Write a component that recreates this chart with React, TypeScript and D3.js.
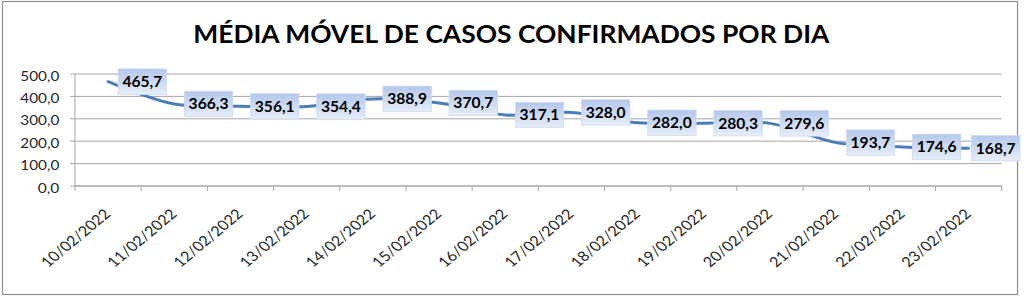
import React from "react";
import * as d3 from "d3";

const title = "MÉDIA MÓVEL DE CASOS CONFIRMADOS POR DIA";
const dates = [
  "10/02/2022", "11/02/2022", "12/02/2022", "13/02/2022", "14/02/2022",
  "15/02/2022", "16/02/2022", "17/02/2022", "18/02/2022", "19/02/2022",
  "20/02/2022", "21/02/2022", "22/02/2022", "23/02/2022",
];
const values = [465.7, 366.3, 356.1, 354.4, 388.9, 370.7, 317.1, 328.0, 282.0, 280.3, 279.6, 193.7, 174.6, 168.7];
const yTicks = [0, 100, 200, 300, 400, 500];

const W = 1024;
const H = 296;
const FONT = "Lato, 'Open Sans', sans-serif";

const locale = d3.formatLocale({ decimal: ",", thousands: ".", grouping: [3], currency: ["R$", ""] });
const fmt = locale.format(".1f");

// Calibri-like widths: digits 0.507em, comma 0.25em, slash 0.386em
const emWidth = (s: string) =>
  s.split("").reduce((a, c) => a + (c === "," ? 0.25 : c === "/" ? 0.386 : 0.507), 0);

export default function App() {
  const x = d3.scaleBand<string>().domain(dates).range([75, 1001.7]);
  const y = d3.scaleLinear().domain([0, 500]).range([186, 74]);
  const cx = (d: string) => (x(d) as number) + x.bandwidth() / 2;

  const line = d3
    .line<number>()
    .x((_, i) => cx(dates[i]))
    .y((v) => y(v))
    .curve(d3.curveCatmullRom.alpha(0.5));

  const boxW = 48.5;
  const boxH = 25.5;
  const boundaries = [...dates.map((d) => x(d) as number), 1001.7];

  return (
    <svg
      width={W}
      height={H}
      style={{ position: "absolute", left: 0, top: 0, background: "#fff" }}
    >
      <defs>
        <linearGradient id="lbl" x1="0" y1="0" x2="0" y2="1">
          <stop offset="0" stopColor="#b3c7ec" />
          <stop offset="1" stopColor="#e8eefa" />
        </linearGradient>
      </defs>
      <rect x={0} y={0} width={W} height={H} fill="#fff" />
      <rect x={2.5} y={1.5} width={1015} height={293} fill="#fff" stroke="#8c8c8c" strokeWidth={1.2} />

      <text
        x={511.3}
        y={43}
        textAnchor="middle"
        fontFamily={FONT}
        fontWeight="bold"
        fontSize={25}
        fill="#000"
        textLength={636}
        lengthAdjust="spacingAndGlyphs"
      >
        {title}
      </text>

      {/* gridlines */}
      {yTicks.map((t) => (
        <line key={"g" + t} x1={75} x2={1001.7} y1={y(t)} y2={y(t)} stroke="#a6a6a6" strokeWidth={1} />
      ))}
      {/* y axis */}
      <line x1={75} x2={75} y1={74} y2={186} stroke="#a6a6a6" />
      {yTicks.map((t) => {
        const s = fmt(t);
        return (
          <g key={"yt" + t}>
            <line x1={70} x2={75} y1={y(t)} y2={y(t)} stroke="#a6a6a6" />
            <text
              x={59.3}
              y={y(t) + 6.5}
              textAnchor="end"
              fontFamily={FONT}
              fontSize={13.5}
              fill="#262626"
              textLength={emWidth(s) * 17.1}
              lengthAdjust="spacingAndGlyphs"
            >
              {s}
            </text>
          </g>
        );
      })}
      {/* x axis */}
      <line x1={75} x2={1001.7} y1={186} y2={186} stroke="#a6a6a6" />
      {boundaries.map((b, i) => (
        <line key={"xt" + i} x1={b} x2={b} y1={186} y2={191} stroke="#a6a6a6" />
      ))}
      {dates.map((d) => (
        <text
          key={"xl" + d}
          transform={`translate(${cx(d) + 3.5},${215}) scale(1.2,1) rotate(-45)`}
          textAnchor="end"
          fontFamily={FONT}
          fontSize={14}
          fill="#262626"
          textLength={emWidth(d) * 15.5}
          lengthAdjust="spacingAndGlyphs"
        >
          {d}
        </text>
      ))}

      {/* line */}
      <path d={line(values) ?? ""} fill="none" stroke="#4a7ebb" strokeWidth={3} strokeLinecap="round" />

      {/* data labels */}
      {values.map((v, i) => {
        const px = cx(dates[i]);
        const py = y(v);
        let left = px + 10;
        if (left + boxW > 1020) left = 1020 - boxW;
        const s = fmt(v);
        return (
          <g key={"dl" + i}>
            <rect
              x={left}
              y={py - boxH / 2}
              width={boxW}
              height={boxH}
              fill="url(#lbl)"
              stroke="#d0dbf0"
              strokeWidth={0.8}
            />
            <text
              x={left + boxW / 2}
              y={py + 5.5}
              textAnchor="middle"
              fontFamily={FONT}
              fontWeight="bold"
              fontSize={15}
              fill="#000"
              textLength={emWidth(s) * 17.5}
              lengthAdjust="spacingAndGlyphs"
            >
              {s}
            </text>
          </g>
        );
      })}
    </svg>
  );
}
